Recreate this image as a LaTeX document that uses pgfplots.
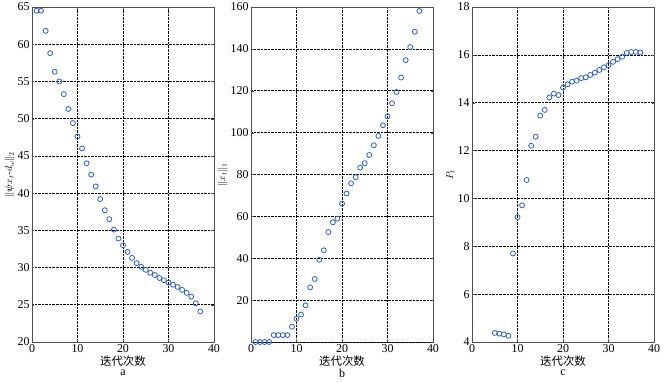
\documentclass[border=0pt]{standalone}
\usepackage{pgfplots}
\pgfplotsset{compat=1.18}
\usepackage{fontspec}
\setmainfont{Liberation Serif}
\newfontfamily\cjk{Noto Sans CJK SC}
\usepackage{amsmath,bm}
\definecolor{mk}{RGB}{45,95,190}
\definecolor{fr}{RGB}{80,80,80}
\pgfplotsset{
  myax/.style={
    scale only axis, width=182bp, height=335bp,
    xmin=0, xmax=40, xtick={0,10,20,30,40},
    grid=major, major grid style={black, densely dotted, line width=0.6pt},
    axis line style={fr, line width=0.8pt},
    tick style={fr}, major tick length=2.5bp,
    tick label style={font=\fontsize{12}{14}\selectfont},
    /pgf/number format/assume math mode=true,
    xlabel style={font=\cjk\fontsize{11.5}{13}\selectfont, yshift=4bp},
    ylabel style={font=\fontsize{10}{12}\selectfont, yshift=-4bp},
    xticklabel style={yshift=1bp},
    yticklabel style={xshift=1bp},
  },
  myplot/.style={only marks, mark=o, mark size=2.5bp, mk, mark options={line width=0.8pt}},
}
\begin{document}
\begin{tikzpicture}
\path[use as bounding box] (-32bp,-41bp) rectangle (632bp,342bp);
% panel a
\begin{axis}[myax, at={(0,0)}, anchor=south west,
  ymin=20, ymax=65, ytick={20,25,...,65},
  xlabel={迭代次数}, ylabel={$\|\bm{\psi} x_t\text{-}d_{\omega}\|_2$}]
\addplot[myplot] coordinates {
(1,64.5)(2,64.5)(3,61.8)(4,58.8)(5,56.3)(6,55.0)(7,53.3)(8,51.3)(9,49.4)(10,47.6)
(11,46.0)(12,44.0)(13,42.5)(14,40.9)(15,39.2)(16,37.7)(17,36.5)(18,35.1)(19,33.9)(20,33.0)
(21,32.1)(22,31.3)(23,30.6)(24,30.1)(25,29.7)(26,29.3)(27,29.0)(28,28.6)(29,28.3)(30,28.0)
(31,27.7)(32,27.4)(33,27.0)(34,26.6)(35,26.1)(36,25.2)(37,24.1)};
\end{axis}
\node[font=\fontsize{12}{14}\selectfont] at (91bp,-31bp) {a};
% panel b
\begin{axis}[myax, at={(219bp,0)}, anchor=south west,
  ymin=0, ymax=160, ytick={20,40,...,160}, extra y ticks={0}, extra y tick labels={},
  xlabel={迭代次数}, ylabel={$\|x_t\|_1$}]
\addplot[myplot] coordinates {
(1,0)(2,0)(3,0)(4,0)(5,3.3)(6,3.3)(7,3.3)(8,3.3)(9,7.3)(10,11.1)
(11,13.1)(12,17.5)(13,26.1)(14,30.1)(15,39.3)(16,43.8)(17,52.5)(18,57.2)(19,58.9)(20,66.1)
(21,70.9)(22,75.8)(23,78.7)(24,83.3)(25,85.4)(26,89.3)(27,94.0)(28,98.4)(29,103.5)(30,107.8)
(31,114.0)(32,119.4)(33,126.3)(34,134.6)(35,140.9)(36,148.2)(37,158.1)};
\end{axis}
\node[font=\fontsize{12}{14}\selectfont] at (310bp,-31bp) {b};
% panel c
\begin{axis}[myax, at={(440bp,0)}, anchor=south west,
  ymin=4, ymax=18, ytick={4,6,...,18},
  xlabel={迭代次数}, ylabel={$P_t$}]
\addplot[myplot] coordinates {
(5,4.38)(6,4.35)(7,4.32)(8,4.26)(9,7.70)(10,9.22)
(11,9.71)(12,10.77)(13,12.20)(14,12.58)(15,13.46)(16,13.70)(17,14.22)(18,14.38)(19,14.32)(20,14.63)
(21,14.77)(22,14.88)(23,14.92)(24,15.03)(25,15.06)(26,15.16)(27,15.26)(28,15.37)(29,15.48)(30,15.57)
(31,15.71)(32,15.82)(33,15.92)(34,16.08)(35,16.12)(36,16.12)(37,16.10)};
\end{axis}
\node[font=\fontsize{12}{14}\selectfont] at (531bp,-31bp) {c};
\end{tikzpicture}
\end{document}
